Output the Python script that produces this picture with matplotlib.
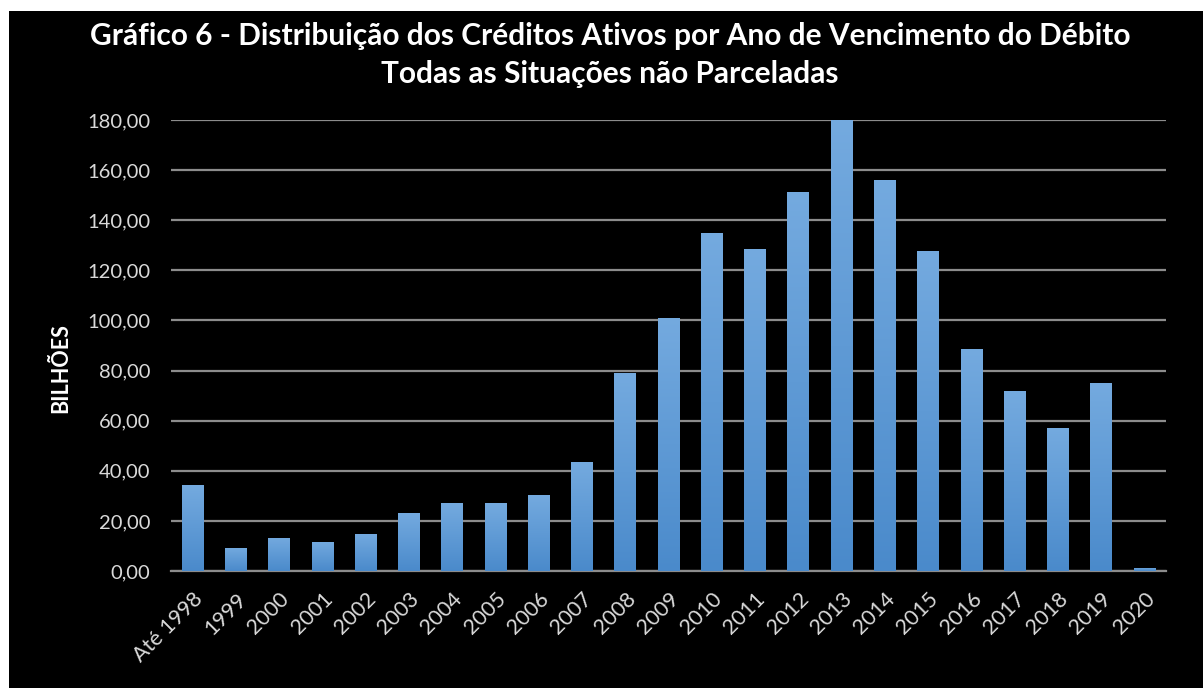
import matplotlib.pyplot as plt
import matplotlib.patches as mpatches
import numpy as np
from matplotlib.ticker import FuncFormatter
from matplotlib.colors import LinearSegmentedColormap

anos = ['Até 1998', '1999', '2000', '2001', '2002', '2003', '2004', '2005',
        '2006', '2007', '2008', '2009', '2010', '2011', '2012', '2013',
        '2014', '2015', '2016', '2017', '2018', '2019', '2020']
valores = [34.3, 9.2, 13.2, 11.6, 14.8, 23.1, 27.1, 27.1, 30.3, 43.5, 79.0,
           101.0, 134.9, 128.5, 151.2, 180.0, 156.0, 127.7, 88.6, 71.8,
           57.1, 75.0, 1.2]
yticks = [0, 20, 40, 60, 80, 100, 120, 140, 160, 180]

titulo = ("Gráfico 6 - Distribuição dos Créditos Ativos por Ano de Vencimento do Débito\n"
          "Todas as Situações não Parceladas")

plt.rcParams['font.family'] = ['Lato', 'DejaVu Sans']

fig = plt.figure(figsize=(12.03, 6.88), dpi=100, facecolor='white')
# black chart area (white strip on top and left like the screenshot)
fig.patches.append(mpatches.Rectangle((9 / 1203, 0), 1, 1 - 11 / 688,
                                      transform=fig.transFigure,
                                      facecolor='black', edgecolor='none', zorder=-10))

ax = fig.add_axes([171 / 1203, 1 - 571 / 688, (1166 - 171) / 1203, (571 - 120) / 688])
ax.set_facecolor('black')

x = np.arange(len(anos))
bars = ax.bar(x, valores, width=0.5, color='none', edgecolor='none', zorder=3)

# vertical gradient inside each bar
grad = np.linspace(0, 1, 256).reshape(-1, 1)
cmap = LinearSegmentedColormap.from_list('azul', ['#4a8acb', '#74aadf'])
for b in bars:
    x0, w, h = b.get_x(), b.get_width(), b.get_height()
    im = ax.imshow(grad, extent=[x0, x0 + w, 0, h], origin='lower', cmap=cmap,
                   aspect='auto', zorder=3)
    im.set_clip_path(b)

ax.set_xlim(-0.5, len(anos) - 0.5)
ax.set_ylim(0, 180)
ax.set_yticks(yticks)
ax.yaxis.set_major_formatter(FuncFormatter(lambda v, p: f"{v:.2f}".replace('.', ',')))
ax.grid(axis='y', color='#8c8c8c', linewidth=1.6, zorder=1)
ax.set_axisbelow(True)

for s in ['top', 'right', 'left']:
    ax.spines[s].set_visible(False)
ax.spines['bottom'].set_color('#8c8c8c')
ax.spines['bottom'].set_linewidth(1.6)

ax.set_xticks(x)
ax.set_xticklabels(anos, rotation=45, ha='right', rotation_mode='anchor')
ax.tick_params(axis='both', length=0, colors='#d9d9d9')
ax.tick_params(axis='y', pad=15, labelsize=14.5)
ax.tick_params(axis='x', pad=13, labelsize=15.5)

ax.set_ylabel('BILHÕES', color='white', fontsize=15.5, fontweight='bold')
ax.yaxis.set_label_coords(-0.1, 0.45)

fig.text(0.507, 0.968, titulo, ha='center', va='top', color='white',
         fontsize=21.5, fontweight='bold', linespacing=1.45)

fig.savefig('out.png', dpi=100, facecolor='white')
